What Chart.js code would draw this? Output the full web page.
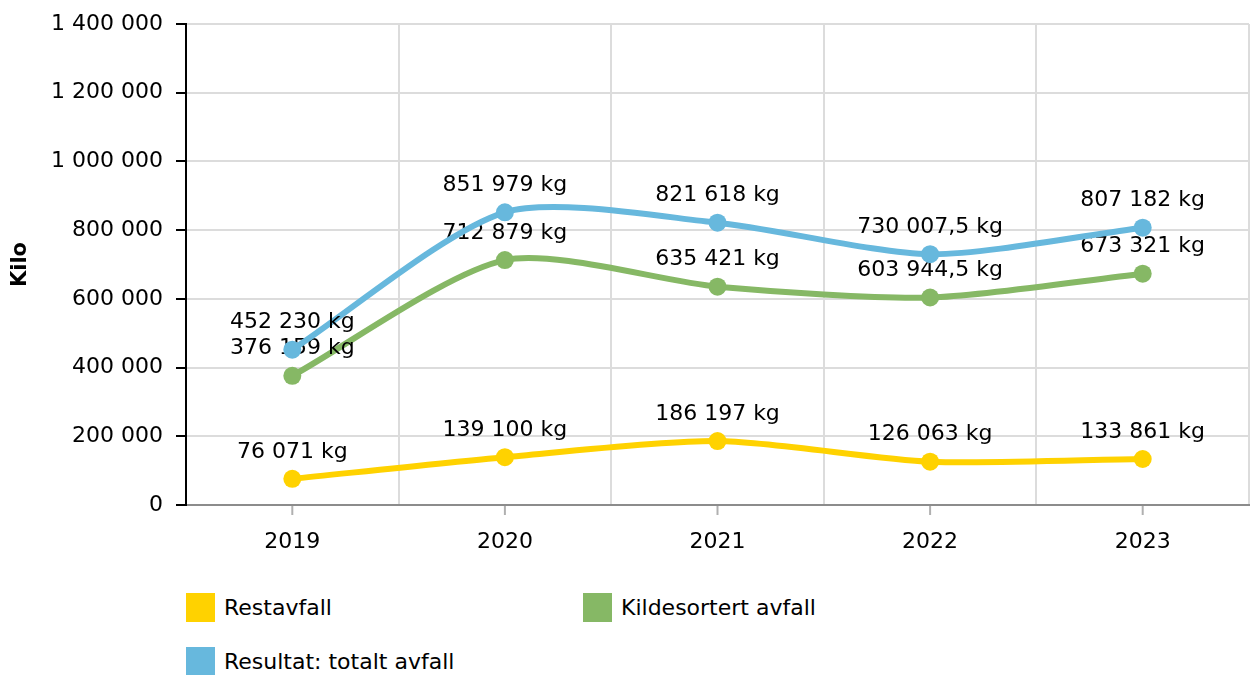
<!DOCTYPE html>
<html>
<head>
<meta charset="utf-8">
<script src="https://cdn.jsdelivr.net/npm/chart.js@4"></script>
<style>
body { margin: 0; background: #fff; font-family: "DejaVu Sans", Verdana, sans-serif; }
#wrap { position: relative; width: 1258px; height: 675px; overflow: hidden; }
#chart { position: absolute; left: 0; top: 0; }
.legend-item { position: absolute; display: flex; align-items: center; font-size: 22px; color: #000; }
.legend-item .box { width: 29px; height: 29px; margin-right: 9px; }
</style>
</head>
<body>
<div id="wrap">
  <canvas id="chart" width="1258" height="565"></canvas>
  <div id="legend"></div>
</div>
<script>
var years = ['2019', '2020', '2021', '2022', '2023'];
var restavfall = [76071, 139100, 186197, 126063, 133861];
var kildesortert = [376159, 712879, 635421, 603944.5, 673321];
var totalt = [452230, 851979, 821618, 730007.5, 807182];

var seriesNames = ['Restavfall', 'Kildesortert avfall', 'Resultat: totalt avfall'];
var seriesColors = ['#ffd200', '#86b865', '#67b8dd'];

var FONT = '"DejaVu Sans", Verdana, sans-serif';

// thousands with spaces, decimal comma
function fmt(v) {
    var parts = String(v).split('.');
    var s = parts[0].replace(/\B(?=(\d{3})+(?!\d))/g, ' ');
    return parts.length > 1 ? s + ',' + parts[1] : s;
}

var labelPlugin = {
    id: 'pointLabels',
    afterDatasetDraw: function(chart, args) {
        var ctx = chart.ctx;
        var data = chart.data.datasets[args.index].data;
        ctx.save();
        ctx.font = '22px ' + FONT;
        ctx.fillStyle = '#000';
        ctx.textAlign = 'center';
        ctx.textBaseline = 'middle';
        args.meta.data.forEach(function(pt, i) {
            ctx.fillText(fmt(data[i]) + ' kg', pt.x, pt.y - 27);
        });
        ctx.restore();
    }
};

// small tick marks under the category centres
var centerTicks = {
    id: 'centerTicks',
    afterDraw: function(chart) {
        var xs = chart.scales.x;
        var ctx = chart.ctx;
        ctx.save();
        ctx.strokeStyle = '#b0b0b0';
        ctx.lineWidth = 2;
        years.forEach(function(y, i) {
            var px = xs.getPixelForValue(i);
            ctx.beginPath();
            ctx.moveTo(px, xs.top + 1);
            ctx.lineTo(px, xs.top + 10);
            ctx.stroke();
        });
        ctx.restore();
    }
};

var ctx = document.getElementById('chart').getContext('2d');
Chart.defaults.font.family = FONT;

var chart = new Chart(ctx, {
    type: 'line',
    data: {
        labels: years,
        datasets: [restavfall, kildesortert, totalt].map(function(d, i) {
            return {
                label: seriesNames[i],
                data: d,
                borderColor: seriesColors[i],
                backgroundColor: seriesColors[i],
                pointBackgroundColor: seriesColors[i],
                pointBorderWidth: 0,
                pointRadius: 9,
                pointHoverRadius: 9,
                borderWidth: 6,
                tension: 0.25,
                order: 2 - i
            };
        })
    },
    options: {
        responsive: false,
        animation: false,
        devicePixelRatio: 1,
        layout: { padding: { top: 3, right: 3, left: 0, bottom: 0 } },
        plugins: {
            legend: { display: false },
            tooltip: { enabled: false }
        },
        scales: {
            x: {
                offset: true,
                grid: {
                    offset: true,
                    lineWidth: 2,
                    drawTicks: false,
                    color: function(c) { return c.index === years.length ? 'rgba(0,0,0,0)' : '#dcdcdc'; }
                },
                border: { color: '#8c8c8c', width: 2 },
                ticks: { color: '#000', font: { size: 22 }, padding: 24 },
                afterFit: function(s) { s.height = 60; }
            },
            y: {
                min: 0,
                max: 1400000,
                ticks: { stepSize: 200000, color: '#000', font: { size: 22, lineHeight: 1 }, padding: 13, callback: function(v) { return fmt(v); } },
                grid: { color: '#dcdcdc', lineWidth: 2, tickColor: '#000', tickLength: 10 },
                border: { color: '#000', width: 2 },
                title: { display: true, text: 'Kilo', color: '#000', font: { size: 21, weight: 'bold' }, padding: { top: 8, bottom: 0 } },
                afterFit: function(s) { s.width = 186; }
            }
        }
    },
    plugins: [labelPlugin, centerTicks]
});

// legend, two columns
var legendPos = [[186, 593], [583, 593], [186, 647]];
var legend = document.getElementById('legend');
seriesNames.forEach(function(name, i) {
    var item = document.createElement('div');
    item.className = 'legend-item';
    item.style.left = legendPos[i][0] + 'px';
    item.style.top = legendPos[i][1] + 'px';
    item.innerHTML = '<span class="box" style="background:' + seriesColors[i] + '"></span><span>' + name + '</span>';
    legend.appendChild(item);
});
</script>
</body>
</html>
